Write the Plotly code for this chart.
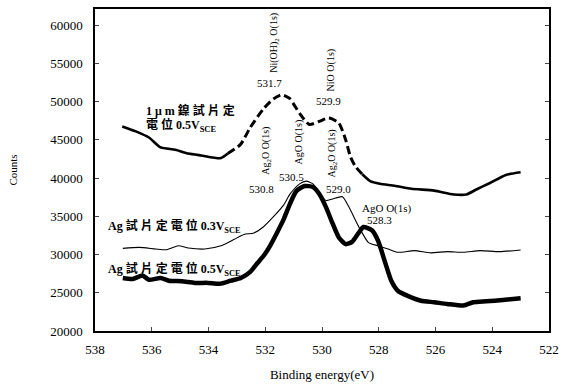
import plotly.graph_objects as go

# Ni sample (1 µm) at 0.5 V_SCE
ni_x = [537.04, 536.56, 536.10, 535.69, 535.17, 534.71, 534.26, 533.57, 533.32,
        532.87, 532.53, 532.05, 531.71, 531.42, 531.14, 530.80, 530.45, 530.10,
        529.76, 529.41, 529.17, 529.00, 528.82, 528.58, 528.30, 527.96, 527.44,
        526.85, 526.05, 525.36, 524.91, 524.56, 524.08, 523.52, 523.00]
ni_y = [46750, 46100, 45300, 44000, 43700, 43200, 42950, 42600, 43200,
        44400, 46600, 49100, 50350, 50900, 50400, 48500, 47000, 47400,
        47850, 47200, 45050, 42800, 41500, 40500, 39600, 39250, 39000,
        38600, 38350, 37850, 37850, 38500, 39350, 40400, 40750]
ni_dash_start = 8   # index where dashed part begins
ni_dash_end = 23    # index where dashed part ends

# Ag sample at 0.3 V_SCE
ag3_x = [537.02, 536.44, 535.86, 535.47, 535.06, 534.71, 534.13, 533.56, 533.09,
         532.75, 532.40, 532.05, 531.71, 531.36, 531.13, 530.79, 530.55, 530.32,
         530.09, 529.86, 529.63, 529.28, 529.05, 528.71, 528.36, 528.02, 527.67,
         527.32, 526.74, 526.17, 525.59, 525.01, 524.43, 523.74, 523.00]
ag3_y = [30800, 30930, 30720, 30630, 31140, 30850, 30720, 31140, 31990,
         32620, 32820, 33670, 34940, 36420, 37890, 39240, 39590, 39240,
         38100, 37050, 37260, 37560, 36200, 33670, 31560, 31140, 30720,
         30290, 30510, 30220, 30380, 30290, 30510, 30380, 30600]

# Ag sample at 0.5 V_SCE
ag5_x = [537.02, 536.67, 536.33, 536.10, 535.69, 535.40, 534.94, 534.48, 534.02,
         533.61, 533.21, 532.86, 532.52, 532.29, 532.05, 531.83, 531.59, 531.36,
         531.13, 530.90, 530.61, 530.32, 530.09, 529.86, 529.63, 529.40, 529.17,
         528.94, 528.71, 528.54, 528.24, 528.02, 527.78, 527.55, 527.32, 526.98,
         526.51, 526.05, 525.59, 525.01, 524.67, 524.21, 523.63, 523.00]
ag5_y = [26920, 26800, 27250, 26710, 26920, 26580, 26500, 26290, 26290,
         26170, 26580, 26920, 27760, 28820, 29870, 31140, 32820, 34520,
         36620, 38320, 38950, 38830, 37890, 36200, 34090, 32190, 31360,
         31650, 32820, 33600, 33170, 31770, 29030, 26490, 25230, 24600,
         23960, 23760, 23540, 23330, 23760, 23890, 24050, 24270]

# annotation texts
peak_labels = ["531.7", "529.9", "530.8", "530.5", "529.0", "528.3"]
peak_x = [531.85, 529.77, 532.13, 531.06, 529.43, 527.97]
peak_y = [52410, 50130, 38610, 40130, 38610, 34560]

rot_labels = ["Ni(OH)<sub>2</sub> O(1s)", "NiO O(1s)", "Ag<sub>2</sub>O O(1s)",
              "AgO O(1s)", "Ag<sub>2</sub>O O(1s)"]
rot_x = [531.68, 529.69, 531.94, 530.80, 529.62]
rot_y = [57730, 54180, 43550, 44690, 43170]

serif = "Liberation Serif, Times New Roman, serif"
cjk = "Liberation Serif, Noto Sans CJK TC, serif"

fig = go.Figure()
line_kw = dict(shape="spline", smoothing=0.6)
fig.add_trace(go.Scatter(x=ni_x[:ni_dash_start + 1], y=ni_y[:ni_dash_start + 1],
                         mode="lines", line=dict(color="black", width=2.6, **line_kw)))
fig.add_trace(go.Scatter(x=ni_x[ni_dash_start:ni_dash_end + 1], y=ni_y[ni_dash_start:ni_dash_end + 1],
                         mode="lines", line=dict(color="black", width=3, dash="8px,4px", **line_kw)))
fig.add_trace(go.Scatter(x=ni_x[ni_dash_end:], y=ni_y[ni_dash_end:],
                         mode="lines", line=dict(color="black", width=2.6, **line_kw)))
fig.add_trace(go.Scatter(x=ag3_x, y=ag3_y, mode="lines",
                         line=dict(color="black", width=1.1, **line_kw)))
fig.add_trace(go.Scatter(x=ag5_x, y=ag5_y, mode="lines",
                         line=dict(color="black", width=4.5, **line_kw)))

annotations = []
for t, x, y in zip(peak_labels, peak_x, peak_y):
    annotations.append(dict(x=x, y=y, text=t, showarrow=False,
                            font=dict(family=serif, size=11, color="black")))
for t, x, y in zip(rot_labels, rot_x, rot_y):
    annotations.append(dict(x=x, y=y, text=t, showarrow=False, textangle=-90,
                            font=dict(family=serif, size=10, color="black")))
annotations.append(dict(x=527.71, y=36080, text="AgO O(1s)", showarrow=False,
                        font=dict(family=serif, size=11, color="black")))

# sample labels
annotations += [
    dict(x=536.27, y=48870, text="<b>1 μ m 鎳 試 片 定</b>", showarrow=False, xanchor="left",
         font=dict(family=cjk, size=12, color="black")),
    dict(x=536.27, y=46850, text="<b>電 位 0.5V<sub>SCE</sub></b>", showarrow=False, xanchor="left",
         font=dict(family=cjk, size=12, color="black")),
    dict(x=537.60, y=33600, text="<b>Ag 試 片 定 電 位 0.3V<sub>SCE</sub></b>", showarrow=False,
         xanchor="left", font=dict(family=cjk, size=12, color="black")),
    dict(x=537.60, y=28100, text="<b>Ag 試 片 定 電 位 0.5V<sub>SCE</sub></b>", showarrow=False,
         xanchor="left", font=dict(family=cjk, size=12, color="black")),
]

fig.update_layout(
    width=566, height=387,
    margin=dict(l=95, r=9, t=7, b=51),
    paper_bgcolor="white", plot_bgcolor="white",
    showlegend=False,
    annotations=annotations,
    font=dict(family=serif, size=12, color="black"),
    xaxis=dict(range=[538, 522], dtick=2, tick0=522, ticks="inside", ticklen=4,
               showline=True, linecolor="black", linewidth=1.5, mirror=True,
               showgrid=False, zeroline=False, ticklabelstandoff=6,
               ticklabeloverflow="allow",
               title=dict(text="Binding energy(eV)", font=dict(family=serif, size=13), standoff=14),
               tickfont=dict(family=serif, size=13)),
    yaxis=dict(range=[20000, 62100], dtick=5000, tick0=20000, tickformat="d",
               ticks="inside", ticklen=4, mirror="ticks",
               showline=True, linecolor="black", linewidth=1.5,
               showgrid=False, zeroline=False, ticklabelstandoff=8,
               ticklabeloverflow="allow",
               title=dict(text="Counts", font=dict(family=serif, size=11), standoff=30),
               tickfont=dict(family=serif, size=13)),
)

fig.write_html("out.html")
